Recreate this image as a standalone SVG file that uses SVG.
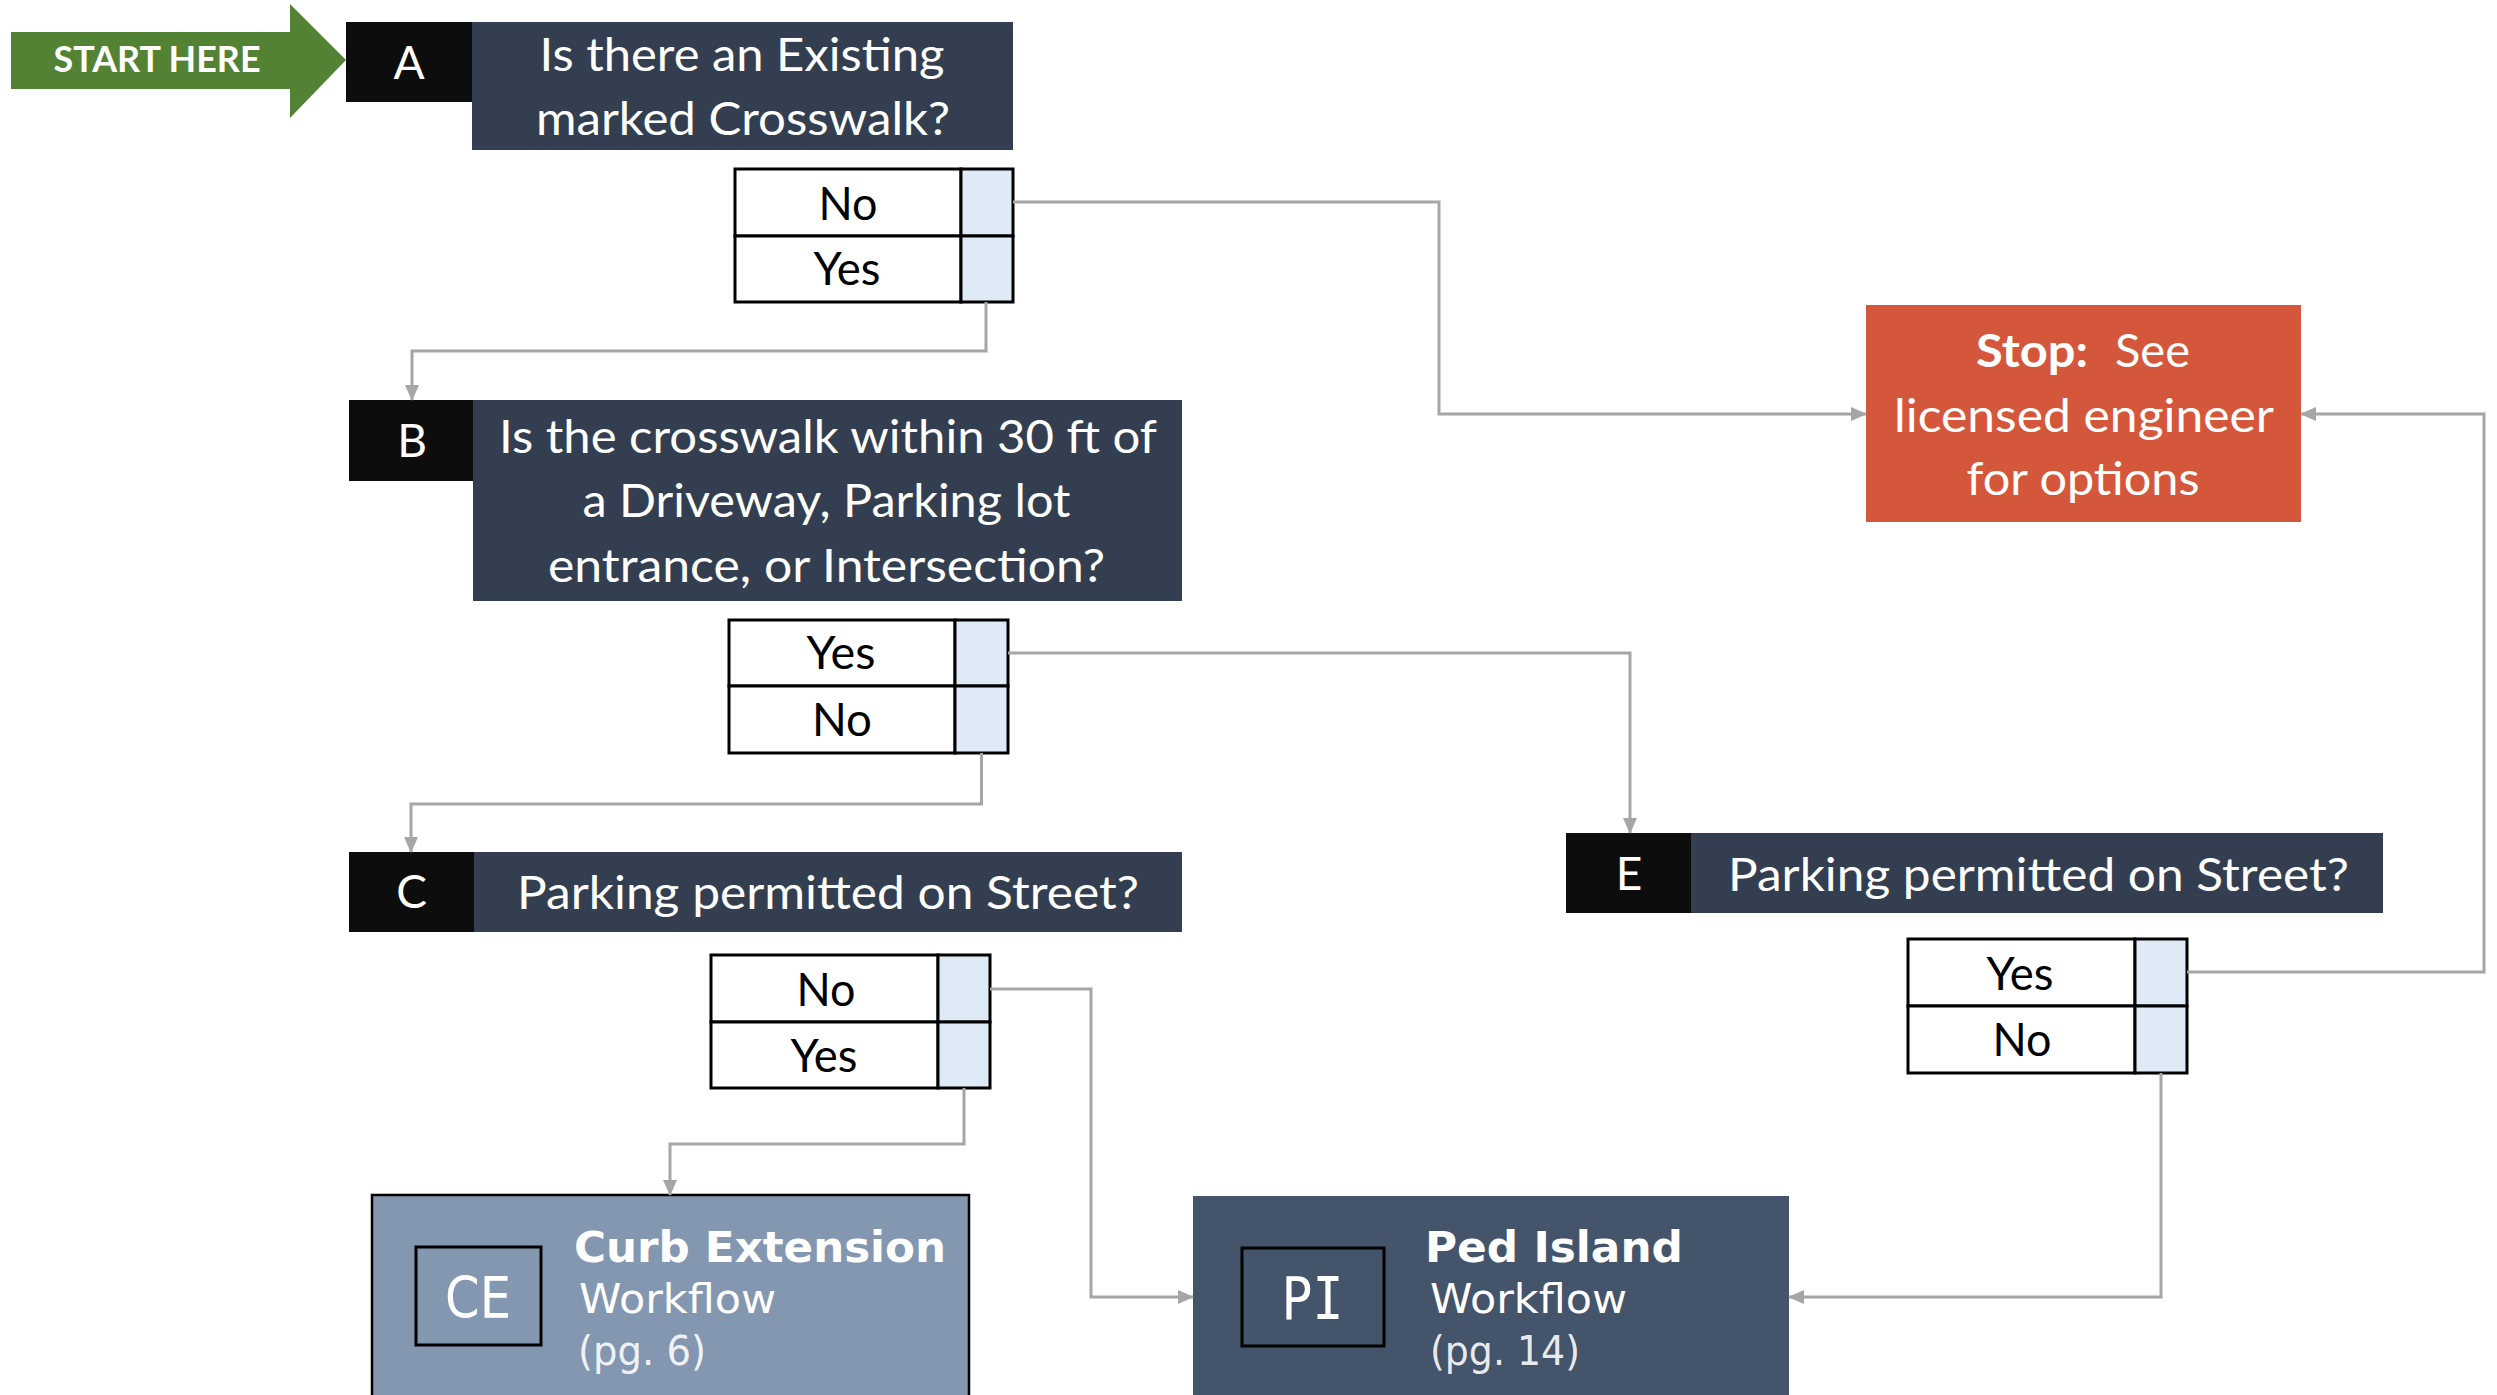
<svg xmlns="http://www.w3.org/2000/svg" width="2497" height="1395" viewBox="0 0 2497 1395">
<style>
.q{font-family:Lato,"Liberation Sans",sans-serif;font-size:46px;fill:#fff;text-anchor:middle}
.ql{font-family:Lato,"Liberation Sans",sans-serif;font-size:46px;fill:#fff}
.opt{font-family:Lato,"Liberation Sans",sans-serif;font-size:46px;fill:#000;text-anchor:middle}
.lb{fill:#0D0D0D}
.qb{fill:#333F50}
.cl{fill:#fff;stroke:#000;stroke-width:3}
.cr{fill:#DEEBF7;stroke:#000;stroke-width:3}
.wf{font-family:"DejaVu Sans",Verdana,sans-serif;fill:#fff}
.conn{fill:none;stroke:#A6A6A6;stroke-width:3;marker-end:url(#ah)}
</style>
<defs>
<marker id="ah" markerUnits="userSpaceOnUse" markerWidth="16" markerHeight="14" refX="15" refY="7" orient="auto">
<path d="M0,0 L16,7 L0,14 z" fill="#A6A6A6"/>
</marker>
</defs>
<rect width="2497" height="1395" fill="#fff"/>

<g id="start">
<polygon points="11,32 290,32 290,4 346,60 290,118 290,89 11,89" fill="#548235"/>
<text x="157" y="72" font-family="Lato,'Liberation Sans',sans-serif" font-weight="bold" font-size="36" fill="#fff" text-anchor="middle" textLength="207" lengthAdjust="spacingAndGlyphs">START HERE</text>
</g>

<g id="nodeA">
<rect class="lb" x="346" y="22" width="126" height="80"/>
<rect class="qb" x="472" y="22" width="541" height="128"/>
<text class="q" x="409" y="79">A</text>
<text class="q" x="742" y="71" textLength="405" lengthAdjust="spacingAndGlyphs">Is there an Existing</text>
<text class="q" x="743" y="135" textLength="414" lengthAdjust="spacingAndGlyphs">marked Crosswalk?</text>
</g>
<g id="optA">
<rect class="cl" x="735" y="169" width="226" height="67"/>
<rect class="cr" x="961" y="169" width="52" height="67"/>
<rect class="cl" x="735" y="236" width="226" height="66"/>
<rect class="cr" x="961" y="236" width="52" height="66"/>
<text class="opt" x="848" y="220" textLength="59" lengthAdjust="spacingAndGlyphs">No</text>
<text class="opt" x="847" y="285" textLength="67" lengthAdjust="spacingAndGlyphs">Yes</text>
</g>

<g id="nodeB">
<rect class="lb" x="349" y="400" width="124" height="81"/>
<rect class="qb" x="473" y="400" width="709" height="201"/>
<text class="q" x="412" y="457">B</text>
<text class="q" x="828" y="453" textLength="658" lengthAdjust="spacingAndGlyphs">Is the crosswalk within 30 ft of</text>
<text class="q" x="826.5" y="517" textLength="488" lengthAdjust="spacingAndGlyphs">a Driveway, Parking lot</text>
<text class="q" x="826.5" y="582" textLength="557" lengthAdjust="spacingAndGlyphs">entrance, or Intersection?</text>
</g>
<g id="optB">
<rect class="cl" x="729" y="620" width="226" height="66"/>
<rect class="cr" x="955" y="620" width="53" height="66"/>
<rect class="cl" x="729" y="686" width="226" height="67"/>
<rect class="cr" x="955" y="686" width="53" height="67"/>
<text class="opt" x="841" y="669" textLength="69" lengthAdjust="spacingAndGlyphs">Yes</text>
<text class="opt" x="842" y="736" textLength="60" lengthAdjust="spacingAndGlyphs">No</text>
</g>

<g id="nodeC">
<rect class="lb" x="349" y="852" width="125" height="80"/>
<rect class="qb" x="474" y="852" width="708" height="80"/>
<text class="q" x="411.5" y="908">C</text>
<text class="ql" x="517" y="909" textLength="622" lengthAdjust="spacingAndGlyphs">Parking permitted on Street?</text>
</g>
<g id="optC">
<rect class="cl" x="711" y="955" width="227" height="67"/>
<rect class="cr" x="938" y="955" width="52" height="67"/>
<rect class="cl" x="711" y="1022" width="227" height="66"/>
<rect class="cr" x="938" y="1022" width="52" height="66"/>
<text class="opt" x="826" y="1006" textLength="59" lengthAdjust="spacingAndGlyphs">No</text>
<text class="opt" x="824" y="1072" textLength="67" lengthAdjust="spacingAndGlyphs">Yes</text>
</g>

<g id="nodeE">
<rect class="lb" x="1566" y="833" width="125" height="80"/>
<rect class="qb" x="1691" y="833" width="692" height="80"/>
<text class="q" x="1629" y="890">E</text>
<text class="ql" x="1728" y="891" textLength="621" lengthAdjust="spacingAndGlyphs">Parking permitted on Street?</text>
</g>
<g id="optE">
<rect class="cl" x="1908" y="939" width="227" height="67"/>
<rect class="cr" x="2135" y="939" width="52" height="67"/>
<rect class="cl" x="1908" y="1006" width="227" height="67"/>
<rect class="cr" x="2135" y="1006" width="52" height="67"/>
<text class="opt" x="2020" y="990" textLength="67" lengthAdjust="spacingAndGlyphs">Yes</text>
<text class="opt" x="2022" y="1056" textLength="59" lengthAdjust="spacingAndGlyphs">No</text>
</g>

<g id="stop">
<rect x="1866" y="305" width="435" height="217" fill="#D5573B"/>
<text class="ql" x="1976" y="367" font-weight="bold" textLength="112" lengthAdjust="spacingAndGlyphs">Stop:</text>
<text class="ql" x="2115" y="367" textLength="75" lengthAdjust="spacingAndGlyphs">See</text>
<text class="q" x="2084" y="432" textLength="380" lengthAdjust="spacingAndGlyphs">licensed engineer</text>
<text class="q" x="2083" y="495" textLength="233" lengthAdjust="spacingAndGlyphs">for options</text>
</g>

<g id="ce">
<rect x="372" y="1195" width="597" height="215" fill="#8497B0" stroke="#000" stroke-width="2.5"/>
<rect x="416" y="1247" width="125" height="98" fill="none" stroke="#000" stroke-width="3"/>
<text class="wf" x="478" y="1318" font-size="57" text-anchor="middle" textLength="66" lengthAdjust="spacingAndGlyphs">CE</text>
<text class="wf" x="574" y="1262" font-size="43.5" font-weight="bold" textLength="372" lengthAdjust="spacingAndGlyphs">Curb Extension</text>
<text class="wf" x="579" y="1313" font-size="41.6" textLength="197" lengthAdjust="spacingAndGlyphs">Workflow</text>
<text class="wf" x="578" y="1365" font-size="41.6" fill-opacity="0.9" textLength="128" lengthAdjust="spacingAndGlyphs">(pg. 6)</text>
</g>

<g id="pi">
<rect x="1193" y="1196" width="596" height="215" fill="#44546A"/>
<rect x="1242" y="1248" width="142" height="98" fill="none" stroke="#000" stroke-width="3"/>
<text x="1312.5" y="1319" font-family="'DejaVu Sans Mono','Liberation Mono',monospace" font-size="58" fill="#fff" text-anchor="middle" textLength="62" lengthAdjust="spacingAndGlyphs">PI</text>
<text class="wf" x="1425" y="1262" font-size="43.5" font-weight="bold" textLength="258" lengthAdjust="spacingAndGlyphs">Ped Island</text>
<text class="wf" x="1430" y="1313" font-size="41.6" textLength="197" lengthAdjust="spacingAndGlyphs">Workflow</text>
<text class="wf" x="1430" y="1365" font-size="41.6" fill-opacity="0.9" textLength="150" lengthAdjust="spacingAndGlyphs">(pg. 14)</text>
</g>

<g id="connectors">
<path class="conn" d="M1013,202 H1439 V414 H1866"/>
<path class="conn" d="M986,302 V351 H412 V400"/>
<path class="conn" d="M1008,653 H1630 V833"/>
<path class="conn" d="M981.5,753 V804 H411 V852"/>
<path class="conn" d="M990,989 H1091 V1297 H1193"/>
<path class="conn" d="M964,1088 V1144 H670 V1195"/>
<path class="conn" d="M2187,972 H2484 V414 H2301"/>
<path class="conn" d="M2161,1073 V1297 H1789"/>
</g>
</svg>
